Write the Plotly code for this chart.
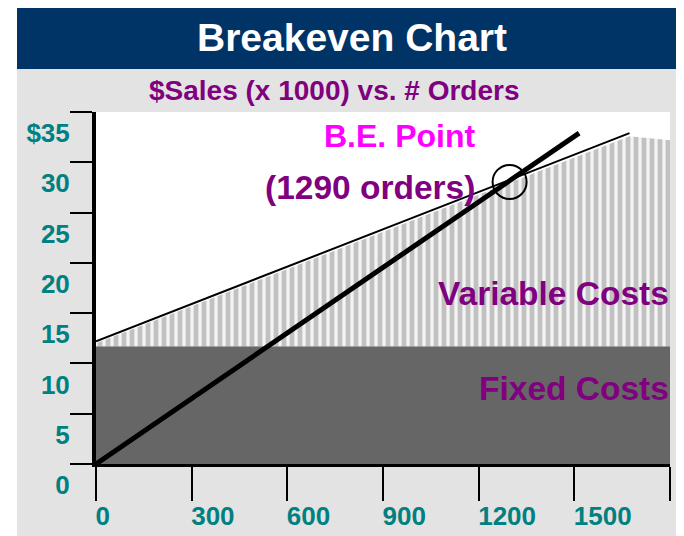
import plotly.graph_objects as go

# ---- data ----
x_tick_vals = [0, 300, 600, 900, 1200, 1500, 1800]
x_tick_text = ["0", "300", "600", "900", "1200", "1500", ""]
y_tick_vals = [0, 5, 10, 15, 20, 25, 30, 35]
y_tick_text = ["0", "5", "10", "15", "20", "25", "30", "$35"]

fixed_orders = [0, 1800]
fixed_costs = [11.7, 11.7]

var_orders = [0, 1673, 1800]
var_top = [12.0, 32.6, 32.2]

cost_orders = [0, 1673]
total_cost = [12.2, 32.9]

sales_orders = [0, 1515]
sales = [0, 32.9]

be_orders = [1297]
be_value = [28.05]

FONT = "Liberation Sans"
TEAL = "#008080"
PURPLE = "#800080"
MAGENTA = "#ff00ff"
NAVY = "#003366"
BG = "#e3e3e3"

# page body adds an 8px offset; figure is sized to fill the rest of the window
OFF = 8
W, H = 684 - OFF, 536 - OFF
ML, MT = 96 - OFF, 112 - OFF
MR = W - (670 - OFF)
MB = H - (464 - OFF)
PW, PH = W - ML - MR, H - MT - MB


def px(xref_pix):
    return (xref_pix - OFF - ML) / PW


def py(yref_pix):
    return (H - MB - (yref_pix - OFF)) / PH


fig = go.Figure()

fig.add_trace(go.Scatter(
    x=fixed_orders, y=fixed_costs, mode="lines", fill="tozeroy",
    fillcolor="#666666", line=dict(width=0, color="#666666"),
    hoverinfo="skip", showlegend=False))

fig.add_trace(go.Scatter(
    x=var_orders, y=var_top, mode="lines", fill="tonexty",
    fillcolor="white", line=dict(width=0, color="white"),
    fillpattern=dict(shape="|", fgcolor="#8e8e8e", bgcolor="#f4f4f4",
                     size=8, solidity=0.6),
    hoverinfo="skip", showlegend=False))

fig.add_trace(go.Scatter(
    x=cost_orders, y=total_cost, mode="lines",
    line=dict(width=2, color="black"), showlegend=False))

fig.add_trace(go.Scatter(
    x=sales_orders, y=sales, mode="lines",
    line=dict(width=5, color="black"), showlegend=False))

fig.add_trace(go.Scatter(
    x=be_orders, y=be_value, mode="markers",
    marker=dict(symbol="circle-open", size=34, color="black",
                line=dict(width=2, color="black")),
    showlegend=False))

fig.update_layout(
    width=W, height=H,
    margin=dict(l=ML, r=MR, t=MT, b=MB, pad=0, autoexpand=False),
    paper_bgcolor=BG, plot_bgcolor="white",
    font=dict(family=FONT, color=TEAL),
    title=dict(text="<b>Breakeven Chart</b>", x=(352 - OFF) / W,
               y=1 - (37 - OFF) / H,
               xanchor="center", yanchor="middle", automargin=False,
               font=dict(family=FONT, size=39, color="white")),
    xaxis=dict(range=[0, 1800], tickvals=x_tick_vals, ticktext=x_tick_text,
               automargin=False,
               ticks="outside", ticklen=34, tickwidth=2, tickcolor="black",
               showline=True, linewidth=3, linecolor="black",
               showgrid=False, zeroline=False,
               ticklabelposition="outside right",
               ticklabelstandoff=27, ticklabelshift=-3,
               tickfont=dict(family=FONT, size=26, color=TEAL, weight="bold")),
    yaxis=dict(range=[0, 35], tickvals=y_tick_vals, ticktext=y_tick_text,
               automargin=False,
               ticks="outside", ticklen=22, tickwidth=1.5, tickcolor="black",
               showline=True, linewidth=4, linecolor="black",
               showgrid=False, zeroline=False,
               ticklabelshift=21, ticklabelstandoff=-5,
               tickfont=dict(family=FONT, size=26, color=TEAL, weight="bold")),
    shapes=[
        dict(type="rect", xref="paper", yref="paper", layer="below",
             x0=px(0), x1=px(17), y0=py(540), y1=py(0),
             fillcolor="white", line=dict(width=0)),
        dict(type="rect", xref="paper", yref="paper", layer="below",
             x0=px(17), x1=px(690), y0=py(69), y1=py(0),
             fillcolor=NAVY, line=dict(width=0)),
    ],
    annotations=[
        dict(text="<b>$Sales (x 1000) vs. # Orders</b>", xref="paper", yref="paper",
             x=px(334), y=py(90), xanchor="center", yanchor="middle",
             showarrow=False, font=dict(family=FONT, size=28, color=PURPLE)),
        dict(text="<b>B.E. Point</b>", xref="x", yref="y",
             x=953, y=32.6, xanchor="center", yanchor="middle",
             showarrow=False, font=dict(family=FONT, size=32, color=MAGENTA)),
        dict(text="<b>(1290 orders)</b>", xref="x", yref="y",
             x=859, y=27.5, xanchor="center", yanchor="middle",
             showarrow=False, font=dict(family=FONT, size=33.5, color=PURPLE)),
        dict(text="<b>Variable Costs</b>", xref="x", yref="y",
             x=1790, y=17.0, xanchor="right", yanchor="middle", xshift=4,
             showarrow=False, font=dict(family=FONT, size=33.5, color=PURPLE)),
        dict(text="<b>Fixed Costs</b>", xref="x", yref="y",
             x=1790, y=7.5, xanchor="right", yanchor="middle", xshift=4,
             showarrow=False, font=dict(family=FONT, size=33.5, color=PURPLE)),
    ],
)

fig.write_html("out.html")
